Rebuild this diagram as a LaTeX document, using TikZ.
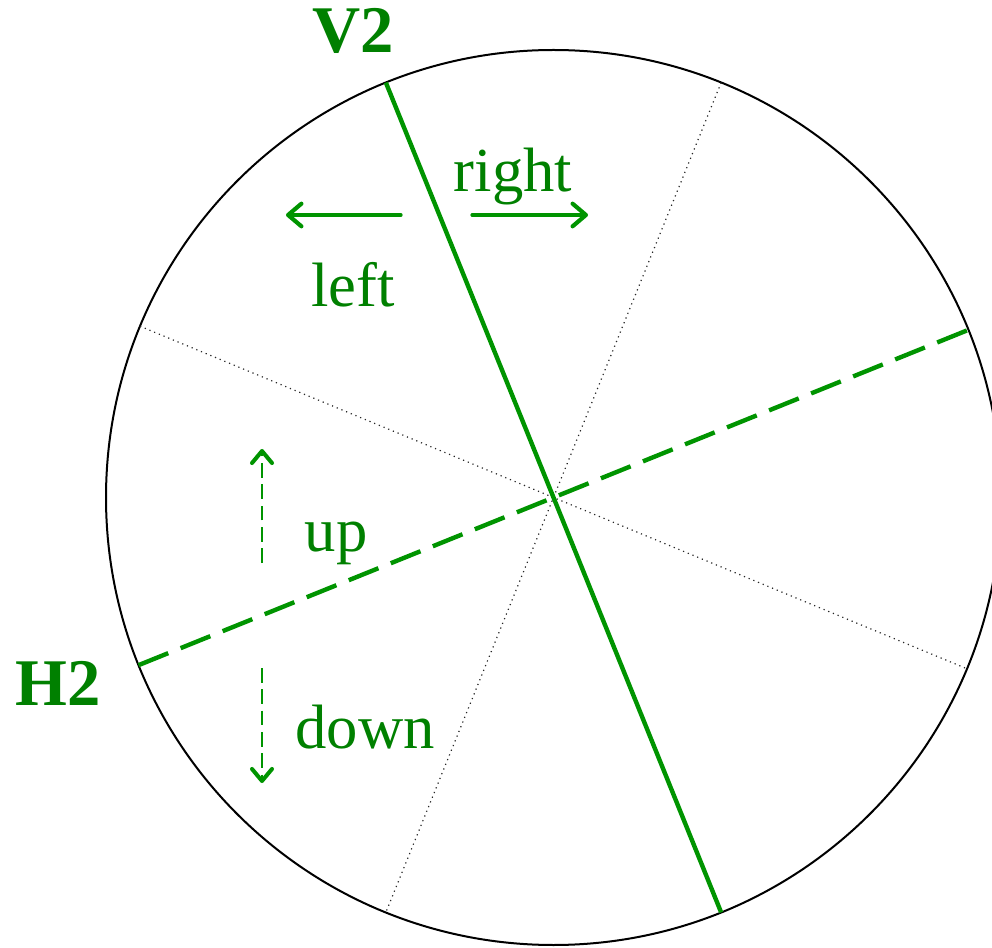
\documentclass[tikz,border=0pt]{standalone}
\usepackage{fontspec}
\setmainfont{Liberation Serif}
\usetikzlibrary{arrows.meta,calc}
\definecolor{txtgreen}{RGB}{0,128,0}
\definecolor{lngreen}{RGB}{0,148,0}
\begin{document}
\begin{tikzpicture}[x=0.75pt,y=0.75pt,
  axisline/.style={draw=lngreen,line width=3.3pt},
  axisdash/.style={axisline,dash pattern=on 24pt off 10pt},
  dotline/.style={draw=black!85,line width=0.9pt,dash pattern=on 0.9pt off 2.9pt},
  dirarrow/.style={draw=lngreen,line width=2.4pt,line cap=round,
    -{Straight Barb[length=10pt,width=17pt,round,line width=0pt 1.3]}},
  dirdash/.style={draw=lngreen,line width=1.9pt,dash pattern=on 11pt off 5pt,
    -{Straight Barb[length=9pt,width=15pt,round,line width=0pt 1.6]}},
  lbl/.style={text=txtgreen,font=\fontsize{47}{56}\selectfont,anchor=base,inner sep=0pt},
  axlbl/.style={text=txtgreen,font=\fontsize{50}{60}\selectfont\bfseries,anchor=base,inner sep=0pt}]
\useasboundingbox (0,0) rectangle (992,947);
\begin{scope}
\clip (0,0) rectangle (992,947);
\coordinate (c) at (553.5,449.5);
\draw[black,line width=1.5pt] (c) circle (447.5);
% dotted diagonals
\coordinate (d1a) at ($(c)+(68:447.5)$);
\coordinate (d1b) at ($(c)+(248:447.5)$);
\coordinate (d2a) at ($(c)+(157.5:447.5)$);
\coordinate (d2b) at ($(c)+(337.5:447.5)$);
\draw[dotline] (d1a) -- (d1b);
\draw[dotline] (d2a) -- (d2b);
% axes
\coordinate (v2a) at ($(c)+(112:447.5)$);
\coordinate (v2b) at ($(c)+(292:447.5)$);
\coordinate (h2a) at ($(c)+(202:447.5)$);
\coordinate (h2b) at ($(c)+(22:447.5)$);
\draw[axisdash] (h2a) -- (h2b);
\draw[axisline] (v2a) -- (v2b);
\end{scope}
% labels
\node[axlbl] (v2) at (353,894) {V2};
\node[axlbl] (h2) at (58,242) {H2};
\node[lbl] (right) at (513,755) {right};
\node[lbl] (left) at (353,640) {left};
\node[lbl] (up) at (336,395) {up};
\node[lbl] (down) at (365,199) {down};
% direction arrows
\coordinate (la) at (401,732); \coordinate (lb) at (286,732);
\coordinate (ra) at (472,732); \coordinate (rb) at (588,732);
\coordinate (ua) at (262,384); \coordinate (ub) at (262,498);
\coordinate (da) at (262,279); \coordinate (db) at (262,164);
\draw[dirarrow] (la) -- (lb);
\draw[dirarrow] (ra) -- (rb);
\draw[dirdash] (ua) -- (ub);
\draw[dirdash] (da) -- (db);
\end{tikzpicture}
\end{document}
